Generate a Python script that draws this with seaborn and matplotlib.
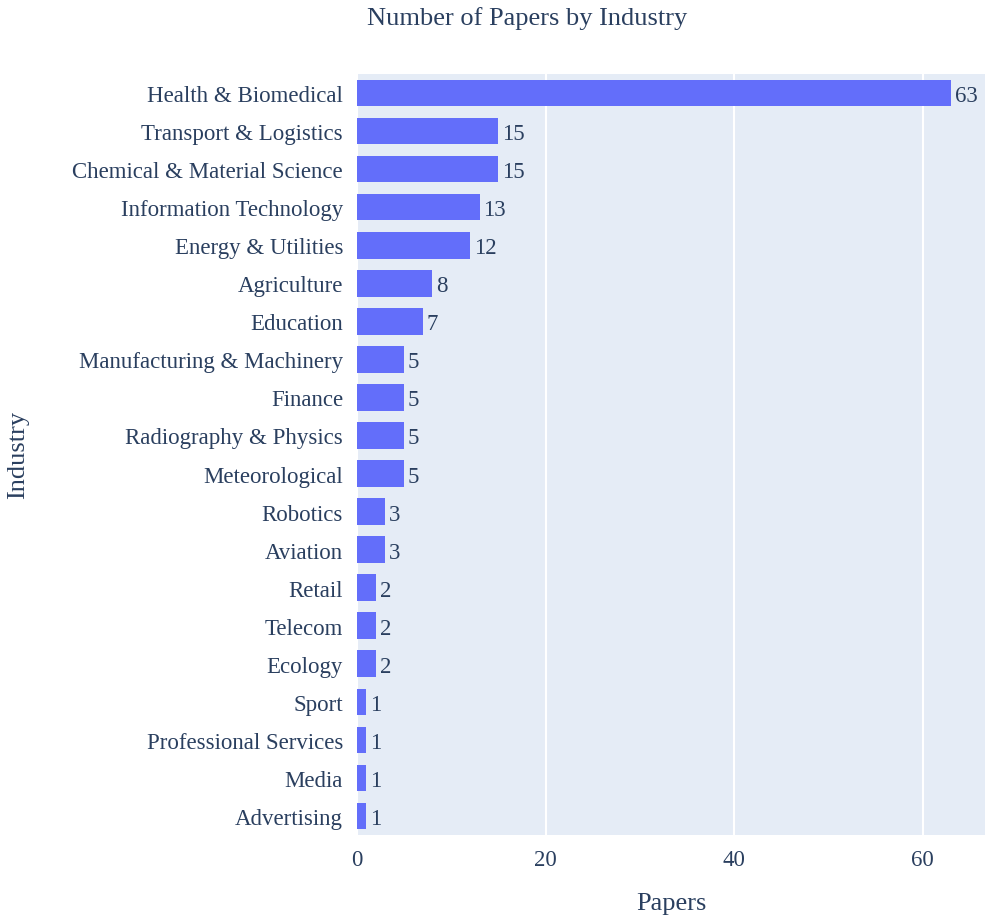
import pandas as pd
import matplotlib.pyplot as plt
import seaborn as sns

# datos
industries = [
    "Health & Biomedical", "Transport & Logistics", "Chemical & Material Science",
    "Information Technology", "Energy & Utilities", "Agriculture", "Education",
    "Manufacturing & Machinery", "Finance", "Radiography & Physics", "Meteorological",
    "Robotics", "Aviation", "Retail", "Telecom", "Ecology", "Sport",
    "Professional Services", "Media", "Advertising",
]
papers = [63, 15, 15, 13, 12, 8, 7, 5, 5, 5, 5, 3, 3, 2, 2, 2, 1, 1, 1, 1]

df = pd.DataFrame({"Industry": industries, "Papers": papers})

sns.set_theme(style="darkgrid")
plt.rcParams["font.family"] = ["Liberation Serif", "DejaVu Serif"]
txt = "#2a3f5f"

fig = plt.figure(figsize=(9.85, 9.2), dpi=100)
ax = fig.add_axes([0.3624, 0.0913, 0.6376, 0.8272])
ax.set_facecolor("#e5ecf6")

sns.barplot(data=df, x="Papers", y="Industry", order=industries, orient="h",
            color="#636efa", saturation=1, width=0.7, linewidth=0, ax=ax)

for i, v in enumerate(papers):
    ax.text(v + 0.4, i, str(v), va="center_baseline", ha="left", fontsize=16.5, color=txt)

ax.set_xlim(0, 66.6)
ax.set_ylim(19.5, -0.5)
ax.set_xticks([0, 20, 40, 60])
ax.grid(axis="x", color="white", linewidth=1.5)
ax.grid(axis="y", visible=False)
ax.set_axisbelow(True)
for s in ax.spines.values():
    s.set_visible(False)
ax.tick_params(axis="both", labelsize=16.5, colors=txt, length=0)
ax.tick_params(axis="y", pad=10)
ax.tick_params(axis="x", pad=10)
for lbl in ax.get_yticklabels():
    lbl.set_verticalalignment("center_baseline")

ax.set_xlabel("")
ax.set_ylabel("")
fig.text(0.6815, 0.017, "Papers", fontsize=19, color=txt, ha="center", va="center")
fig.text(0.018, 0.505, "Industry", rotation=90, fontsize=19, color=txt,
         ha="center", va="center")
fig.text(0.535, 0.98, "Number of Papers by Industry", fontsize=19, color=txt,
         ha="center", va="center")

fig.savefig("out.png", dpi=100)
